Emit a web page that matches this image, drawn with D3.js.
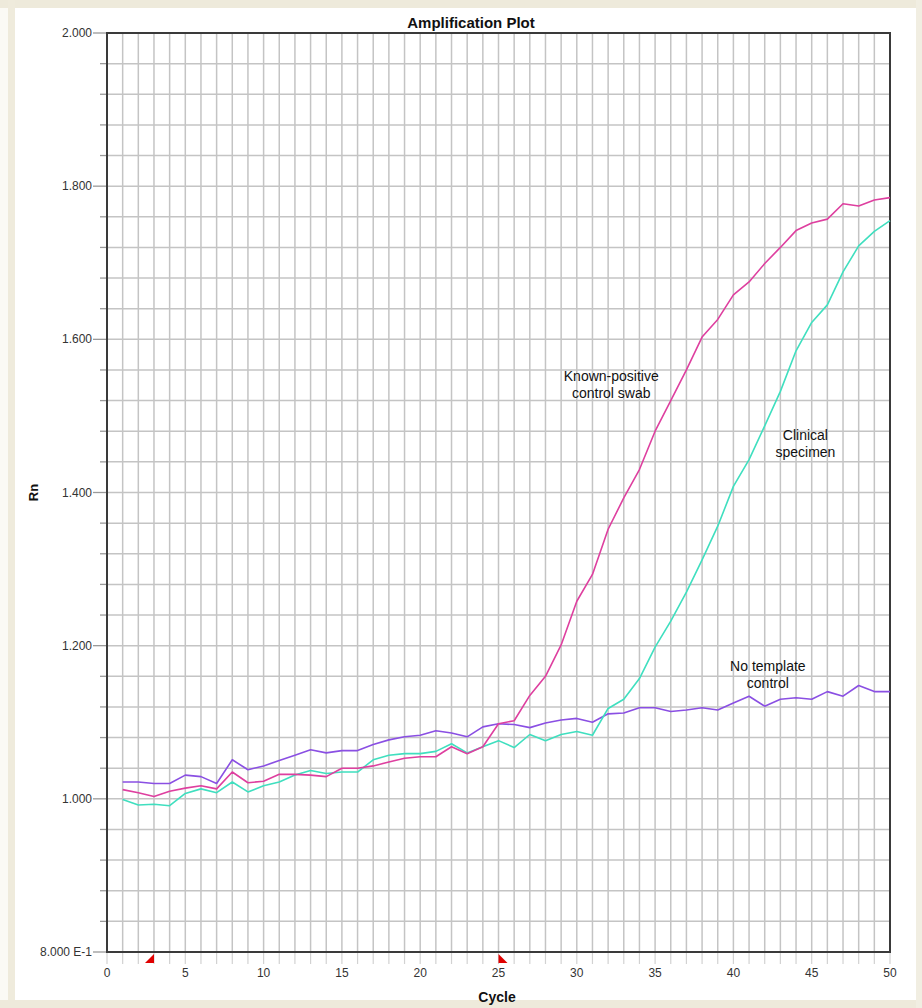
<!DOCTYPE html>
<html>
<head>
<meta charset="utf-8">
<script src="https://cdn.jsdelivr.net/npm/d3@7"></script>
<style>
  html, body { margin: 0; padding: 0; background: #ffffff; }
  svg { display: block; }
  text { font-family: "Liberation Sans", Arial, sans-serif; }
</style>
</head>
<body>
<svg id="chart" width="922" height="1008"></svg>
<script>
// Real-time PCR amplification data: normalized reporter (Rn) per cycle
const cycles = d3.range(1, 51);

const positiveControl = [
  1.012, 1.008, 1.003, 1.010, 1.014, 1.017, 1.013, 1.035, 1.021, 1.023,
  1.032, 1.032, 1.031, 1.029, 1.040, 1.040, 1.043, 1.048, 1.053, 1.055,
  1.055, 1.068, 1.059, 1.068, 1.098, 1.102, 1.135, 1.160, 1.201, 1.258,
  1.293, 1.352, 1.393, 1.430, 1.480, 1.520, 1.560, 1.603, 1.626, 1.658,
  1.675, 1.699, 1.720, 1.742, 1.752, 1.757, 1.777, 1.774, 1.782, 1.785
];

const clinicalSpecimen = [
  0.999, 0.992, 0.993, 0.991, 1.007, 1.013, 1.008, 1.022, 1.009, 1.017,
  1.022, 1.031, 1.037, 1.033, 1.035, 1.035, 1.051, 1.057, 1.059, 1.059,
  1.062, 1.072, 1.060, 1.068, 1.076, 1.067, 1.084, 1.076, 1.084, 1.088,
  1.083, 1.118, 1.130, 1.157, 1.198, 1.232, 1.270, 1.312, 1.356, 1.408,
  1.443, 1.487, 1.532, 1.585, 1.622, 1.645, 1.688, 1.722, 1.741, 1.755
];

const noTemplateControl = [
  1.022, 1.022, 1.020, 1.020, 1.031, 1.029, 1.020, 1.051, 1.038, 1.043,
  1.050, 1.057, 1.064, 1.060, 1.063, 1.063, 1.071, 1.077, 1.081, 1.083,
  1.089, 1.086, 1.081, 1.094, 1.098, 1.097, 1.093, 1.099, 1.103, 1.105,
  1.100, 1.111, 1.112, 1.119, 1.119, 1.114, 1.116, 1.119, 1.116, 1.125,
  1.134, 1.121, 1.130, 1.132, 1.130, 1.140, 1.134, 1.148, 1.140, 1.140
];

const yTickValues = [0.8, 1.0, 1.2, 1.4, 1.6, 1.8, 2.0];
const yTickLabels = ["8.000 E-1", "1.000", "1.200", "1.400", "1.600", "1.800", "2.000"];
const xTickValues = [0, 5, 10, 15, 20, 25, 30, 35, 40, 45, 50];
const xTickLabels = ["0", "5", "10", "15", "20", "25", "30", "35", "40", "45", "50"];

// Baseline window markers (start / end cycle)
const baselineStart = 3;
const baselineEnd = 25;

const series = [
  { name: "noTemplate", values: noTemplateControl, color: "#8a4fe3" },
  { name: "clinical",   values: clinicalSpecimen,  color: "#3fdfbf" },
  { name: "positive",   values: positiveControl,   color: "#de3f9f" }
];

const labels = [
  { lines: ["Known-positive", "control swab"], cycle: 32.2, value: 1.545 },
  { lines: ["Clinical", "specimen"],           cycle: 44.6, value: 1.468 },
  { lines: ["No template", "control"],         cycle: 42.2, value: 1.167 }
];

const svg = d3.select("#chart");
const W = 922, H = 1008;

// window frame
svg.append("rect").attr("x", 0).attr("y", 0).attr("width", W).attr("height", H).attr("fill", "#fbfaf5");
svg.append("rect").attr("x", 15).attr("y", 8).attr("width", W - 21).attr("height", H - 16).attr("fill", "#ffffff");
svg.append("rect").attr("x", 0).attr("y", 0).attr("width", W).attr("height", 8).attr("fill", "#eeeadb");
svg.append("rect").attr("x", 8).attr("y", 0).attr("width", 7).attr("height", H).attr("fill", "#efebdc");
svg.append("rect").attr("x", 0).attr("y", H - 8).attr("width", W).attr("height", 8).attr("fill", "#eeeadb");
svg.append("rect").attr("x", W - 6).attr("y", 0).attr("width", 6).attr("height", H).attr("fill", "#f1eee2");

const plotL = 107, plotR = 890, plotT = 33, plotB = 952;

const x = d3.scaleLinear().domain([0, 50]).range([plotL, plotR]);
const y = d3.scaleLinear().domain([0.8, 2.0]).range([plotB, plotT]);

// vertical grid: one line per cycle, extending a little below the axis as ticks
const xGrid = d3.range(0, 51);
svg.append("g")
  .selectAll("line")
  .data(xGrid.filter(d => d > 0 && d < 50))
  .join("line")
  .attr("x1", d => x(d)).attr("x2", d => x(d))
  .attr("y1", plotT).attr("y2", plotB)
  .attr("stroke", "#c4c4c4").attr("stroke-width", 1.5);

svg.append("g")
  .selectAll("line")
  .data(xGrid)
  .join("line")
  .attr("x1", d => x(d)).attr("x2", d => x(d))
  .attr("y1", plotB).attr("y2", plotB + 12)
  .attr("stroke", "#d2d2d2").attr("stroke-width", 1.2);

// horizontal grid every 0.04 Rn
const yGrid = d3.range(0, 31).map(i => +(0.8 + i * 0.04).toFixed(2));
svg.append("g")
  .selectAll("line")
  .data(yGrid.filter(d => d > 0.8 && d < 2.0))
  .join("line")
  .attr("x1", plotL).attr("x2", plotR)
  .attr("y1", d => y(d)).attr("y2", d => y(d))
  .attr("stroke", "#c4c4c4").attr("stroke-width", 1.5);

// y ticks: short for minor, longer for labelled
const isMajor = d => yTickValues.some(v => Math.abs(v - d) < 1e-6);
svg.append("g")
  .selectAll("line")
  .data(yGrid)
  .join("line")
  .attr("x1", d => isMajor(d) ? plotL - 14 : plotL - 7).attr("x2", plotL)
  .attr("y1", d => y(d)).attr("y2", d => y(d))
  .attr("stroke", "#9a9a9a").attr("stroke-width", 1.3);

// y tick labels
svg.append("g")
  .selectAll("text")
  .data(yTickValues)
  .join("text")
  .attr("x", plotL - 15)
  .attr("y", d => y(d) + 4)
  .attr("text-anchor", "end")
  .attr("font-size", 12)
  .attr("fill", "#333")
  .text((d, i) => yTickLabels[i]);

// x tick labels
svg.append("g")
  .selectAll("text")
  .data(xTickValues)
  .join("text")
  .attr("x", d => x(d))
  .attr("y", 977)
  .attr("text-anchor", "middle")
  .attr("font-size", 12)
  .attr("fill", "#333")
  .text((d, i) => xTickLabels[i]);

// plot frame
svg.append("rect")
  .attr("x", plotL).attr("y", plotT)
  .attr("width", plotR - plotL).attr("height", plotB - plotT)
  .attr("fill", "none").attr("stroke", "#3a3a3a").attr("stroke-width", 2);

// baseline markers
const tri = 9;
svg.append("path")
  .attr("d", `M${x(baselineStart)},${plotB + 2} L${x(baselineStart)},${plotB + 2 + tri} L${x(baselineStart) - tri},${plotB + 2 + tri} Z`)
  .attr("fill", "#e00000");
svg.append("path")
  .attr("d", `M${x(baselineEnd)},${plotB + 2} L${x(baselineEnd)},${plotB + 2 + tri} L${x(baselineEnd) + tri},${plotB + 2 + tri} Z`)
  .attr("fill", "#e00000");

// amplification curves
const line = d3.line()
  .x((d, i) => x(cycles[i]))
  .y(d => y(d));

svg.append("g")
  .selectAll("path")
  .data(series)
  .join("path")
  .attr("d", d => line(d.values))
  .attr("fill", "none")
  .attr("stroke", d => d.color)
  .attr("stroke-width", 1.6)
  .attr("stroke-linejoin", "round");

// curve annotations
const ann = svg.append("g");
labels.forEach(l => {
  const t = ann.append("text")
    .attr("x", x(l.cycle))
    .attr("y", y(l.value))
    .attr("text-anchor", "middle")
    .attr("font-size", 14)
    .attr("fill", "#111");
  l.lines.forEach((s, i) => {
    t.append("tspan").attr("x", x(l.cycle)).attr("dy", i === 0 ? 0 : 17).text(s);
  });
});

// titles
svg.append("text")
  .attr("x", 471).attr("y", 28)
  .attr("text-anchor", "middle")
  .attr("font-size", 15).attr("font-weight", "bold")
  .attr("fill", "#111")
  .text("Amplification Plot");

svg.append("text")
  .attr("transform", `translate(38,${y(1.4)}) rotate(-90)`)
  .attr("text-anchor", "middle")
  .attr("font-size", 13).attr("font-weight", "bold")
  .attr("fill", "#111")
  .text("Rn");

svg.append("text")
  .attr("x", 497).attr("y", 1002)
  .attr("text-anchor", "middle")
  .attr("font-size", 14).attr("font-weight", "bold")
  .attr("fill", "#111")
  .text("Cycle");
</script>
</body>
</html>
